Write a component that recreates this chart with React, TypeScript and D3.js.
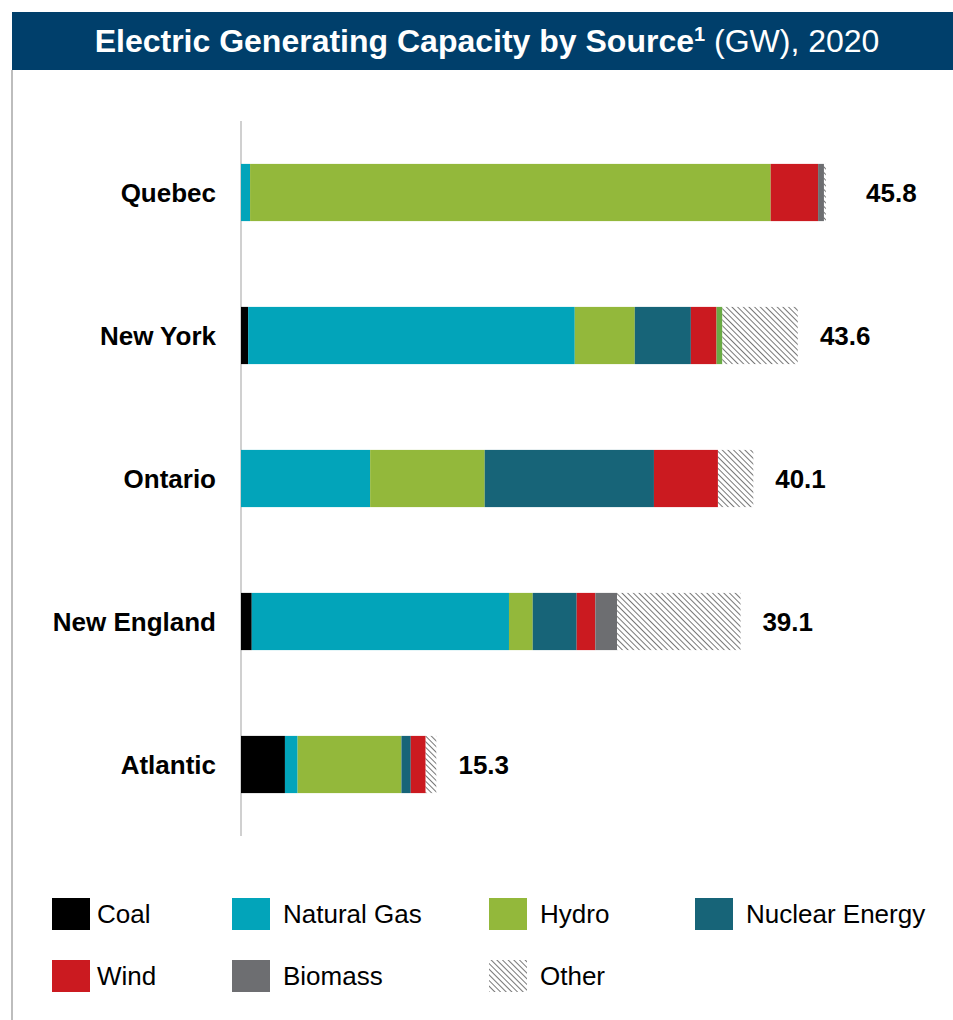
import React from "react";
import * as d3 from "d3";

// Regions, top to bottom
const regions = ["Quebec", "New York", "Ontario", "New England", "Atlantic"];
const totals = [45.8, 43.6, 40.1, 39.1, 15.3];

// Capacity by source (GW), one value per region
const coal = [0, 0.56, 0, 0.84, 3.44];
const naturalGas = [0.71, 25.57, 10.11, 20.14, 0.99];
const hydro = [40.76, 4.7, 8.97, 1.86, 8.13];
const nuclear = [0, 4.39, 13.25, 3.44, 0.73];
const wind = [3.71, 2.01, 5.01, 1.46, 1.17];
const solar = [0, 0.46, 0, 0, 0];
const biomass = [0.46, 0, 0, 1.7, 0];
const other = [0.15, 5.9, 2.77, 9.67, 0.83];

const sources = [
  { key: "coal", name: "Coal", values: coal, color: "#000000" },
  { key: "gas", name: "Natural Gas", values: naturalGas, color: "#02a4ba" },
  { key: "hydro", name: "Hydro", values: hydro, color: "#93b83b" },
  { key: "nuclear", name: "Nuclear Energy", values: nuclear, color: "#176478" },
  { key: "wind", name: "Wind", values: wind, color: "#cb1a20" },
  { key: "solar", name: "Solar", values: solar, color: "#6aab45" },
  { key: "biomass", name: "Biomass", values: biomass, color: "#6d6e71" },
  { key: "other", name: "Other", values: other, color: "url(#hatch)" },
];

const legendOrder = ["coal", "gas", "hydro", "nuclear", "wind", "biomass", "other"];

const W = 953;
const H = 1020;
const FONT = "'Liberation Sans', Arial, sans-serif";

export default function App() {
  const x = d3.scaleLinear().domain([0, 45.8]).range([241, 826]);
  const y = d3
    .scaleBand<string>()
    .domain(regions)
    .range([121, 836])
    .paddingInner(0.6)
    .paddingOuter(0.3);

  const rows = regions.map((r, i) => {
    const obj: Record<string, number | string> = { region: r };
    sources.forEach((s) => (obj[s.key] = s.values[i]));
    return obj;
  });
  const stack = d3.stack<Record<string, number | string>>().keys(sources.map((s) => s.key))(rows as any);

  const labelGap = (r: string) => (r === "Quebec" ? 40 : 22);

  const legendItems = legendOrder.map((k) => sources.find((s) => s.key === k)!);
  const legendCols = [52, 232, 489, 695];
  const legendRows = [898, 960];

  return (
    <svg
      width={W}
      height={H}
      style={{ position: "absolute", left: 0, top: 0, display: "block", background: "#fff" }}
      fontFamily={FONT}
    >
      <defs>
        <pattern id="hatch" patternUnits="userSpaceOnUse" width={4} height={4} patternTransform="rotate(-45)">
          <rect width={4} height={4} fill="#fff" />
          <line x1={0} y1={0} x2={0} y2={4} stroke="#555" strokeWidth={1.6} />
        </pattern>
      </defs>

      {/* Title banner */}
      <rect x={12} y={12} width={W - 12} height={58} fill="#003f6b" />
      <text x={487} y={52} textAnchor="middle" fill="#fff" fontSize={32}>
        <tspan fontWeight="bold">Electric Generating Capacity by Source</tspan>
        <tspan fontWeight="bold" fontSize={20} dy={-11}>1</tspan>
        <tspan dy={11}> (GW), 2020</tspan>
      </text>
      <line x1={12} y1={70} x2={12} y2={H} stroke="#bdbdbd" strokeWidth={2} />

      {/* Baseline */}
      <line x1={241} y1={121} x2={241} y2={836} stroke="#d0d0d0" strokeWidth={2} />

      {/* Stacked bars */}
      {stack.map((layer, li) => (
        <g key={sources[li].key} fill={sources[li].color}>
          {layer.map((d, i) =>
            d[1] - d[0] > 0 ? (
              <rect
                key={regions[i]}
                x={x(d[0])}
                y={y(regions[i])!}
                width={x(d[1]) - x(d[0])}
                height={y.bandwidth()}
              />
            ) : null
          )}
        </g>
      ))}

      {/* Category labels */}
      {regions.map((r) => (
        <text
          key={r}
          x={216}
          y={y(r)! + y.bandwidth() / 2}
          dy="0.35em"
          textAnchor="end"
          fontWeight="bold"
          fontSize={26}
          fill="#000"
        >
          {r}
        </text>
      ))}

      {/* Totals */}
      {regions.map((r, i) => (
        <text
          key={r}
          x={x(totals[i]) + labelGap(r)}
          y={y(r)! + y.bandwidth() / 2}
          dy="0.35em"
          fontWeight="bold"
          fontSize={26}
          fill="#000"
        >
          {totals[i].toFixed(1)}
        </text>
      ))}

      {/* Legend */}
      {legendItems.map((s, i) => {
        const lx = legendCols[i % 4];
        const ly = legendRows[Math.floor(i / 4)];
        return (
          <g key={s.key}>
            <rect x={lx} y={ly} width={38} height={32} fill={s.color} />
            <text x={lx + (i % 4 === 0 ? 45 : 51)} y={ly + 16} dy="0.35em" fontSize={26} fill="#000">
              {s.name}
            </text>
          </g>
        );
      })}
    </svg>
  );
}
